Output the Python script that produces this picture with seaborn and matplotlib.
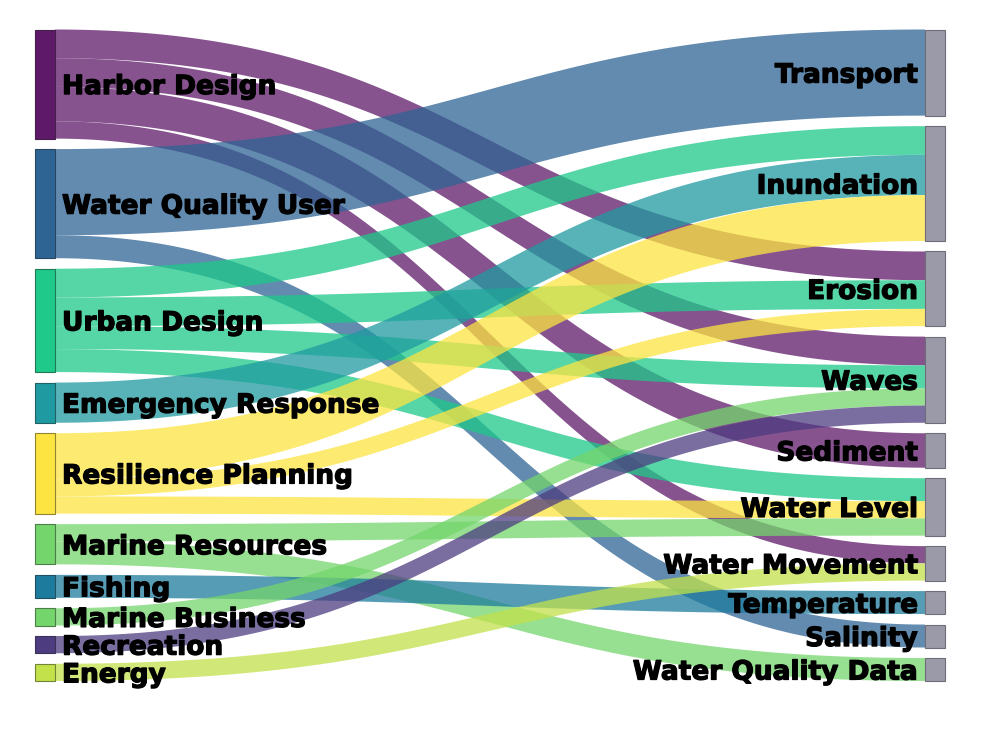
import numpy as np
import matplotlib
matplotlib.use("Agg")
import matplotlib.pyplot as plt
from matplotlib.patches import Polygon, Rectangle
import matplotlib.patheffects as pe
import seaborn as sns

# ---------------- data ----------------
left_nodes = ["Harbor Design", "Water Quality User", "Urban Design", "Emergency Response",
              "Resilience Planning", "Marine Resources", "Fishing", "Marine Business",
              "Recreation", "Energy"]
right_nodes = ["Transport", "Inundation", "Erosion", "Waves", "Sediment", "Water Level",
               "Water Movement", "Temperature", "Salinity", "Water Quality Data"]

link_source = ["Harbor Design", "Harbor Design", "Harbor Design", "Harbor Design",
               "Water Quality User", "Water Quality User",
               "Urban Design", "Urban Design", "Urban Design", "Urban Design",
               "Emergency Response",
               "Resilience Planning", "Resilience Planning", "Resilience Planning",
               "Marine Resources", "Marine Resources",
               "Fishing", "Marine Business", "Recreation", "Energy"]
link_target = ["Erosion", "Waves", "Sediment", "Water Movement",
               "Transport", "Salinity",
               "Inundation", "Erosion", "Waves", "Water Level",
               "Inundation",
               "Inundation", "Erosion", "Water Level",
               "Water Level", "Water Quality Data",
               "Temperature", "Waves", "Waves", "Water Movement"]
link_value = [5, 5, 6, 3,
              15, 4,
              5, 5, 4, 4,
              7,
              8, 3, 3,
              3, 4,
              4, 3, 3, 3]

left_colors = ["#5e1a69", "#2e6494", "#1ec98a", "#1f9aa0", "#fde441",
               "#74d56c", "#1d7b9d", "#74d56c", "#4d3c80", "#c2e14b"]
right_color = "#9b9aa8"

# ---------------- layout ----------------
sns.set_theme(style="white")
plt.rcParams["font.family"] = ["DejaVu Sans"]

W, H = 992, 744
fig = plt.figure(figsize=(W / 100, H / 100), dpi=100)
ax = fig.add_axes([0, 0, 1, 1])
ax.set_xlim(0, W)
ax.set_ylim(H, 0)
ax.axis("off")

top, bottom = 29.5, 681.0
gap = 10.5
lx0, lx1 = 35, 55
rx0, rx1 = 925, 945

left_tot = {n: 0 for n in left_nodes}
right_tot = {n: 0 for n in right_nodes}
for s, t, v in zip(link_source, link_target, link_value):
    left_tot[s] += v
    right_tot[t] += v
total = sum(link_value)
scale = (bottom - top - gap * (len(left_nodes) - 1)) / total


def positions(nodes, tot):
    pos, y = {}, top
    for n in nodes:
        h = tot[n] * scale
        pos[n] = (y, y + h)
        y += h + gap
    return pos


lpos = positions(left_nodes, left_tot)
rpos = positions(right_nodes, right_tot)

# link offsets
idx = list(range(len(link_value)))
src_off = {}
for n in left_nodes:
    y = lpos[n][0]
    for i in sorted([i for i in idx if link_source[i] == n],
                    key=lambda i: right_nodes.index(link_target[i])):
        src_off[i] = y
        y += link_value[i] * scale
tgt_off = {}
for n in right_nodes:
    y = rpos[n][0]
    for i in sorted([i for i in idx if link_target[i] == n],
                    key=lambda i: left_nodes.index(link_source[i])):
        tgt_off[i] = y
        y += link_value[i] * scale

t = np.linspace(0, 1, 120)
b0 = (1 - t) ** 3 + 3 * (1 - t) ** 2 * t
b1 = 3 * (1 - t) * t ** 2 + t ** 3
xm = (lx1 + rx0) / 2
xs = (1 - t) ** 3 * lx1 + 3 * (1 - t) ** 2 * t * xm + 3 * (1 - t) * t ** 2 * xm + t ** 3 * rx0

for i in idx:
    h = link_value[i] * scale
    y0, y1 = src_off[i], tgt_off[i]
    ytop = b0 * y0 + b1 * y1
    ybot = ytop + h
    pts = np.vstack([np.column_stack([xs, ytop]), np.column_stack([xs[::-1], ybot[::-1]])])
    col = left_colors[left_nodes.index(link_source[i])]
    ax.add_patch(Polygon(pts, closed=True, facecolor=col, alpha=0.75, edgecolor="none", zorder=1))

txt_fx = [pe.withStroke(linewidth=0.9, foreground="black")]

for n, c in zip(left_nodes, left_colors):
    y0, y1 = lpos[n]
    ax.add_patch(Rectangle((lx0, y0), lx1 - lx0, y1 - y0, facecolor=c,
                           edgecolor=sns.dark_palette(c, 3)[1], lw=0.8, zorder=3))
    ax.text(62, (y0 + y1) / 2 + 3, n, ha="left", va="center", fontsize=19,
            fontweight="bold", color="black", zorder=4, path_effects=txt_fx)

for n in right_nodes:
    y0, y1 = rpos[n]
    ax.add_patch(Rectangle((rx0, y0), rx1 - rx0, y1 - y0, facecolor=right_color,
                           edgecolor="#6e6d78", lw=0.8, zorder=3))
    ax.text(918, (y0 + y1) / 2 + 3, n, ha="right", va="center", fontsize=19,
            fontweight="bold", color="black", zorder=4, path_effects=txt_fx)

fig.savefig("out.png", dpi=100, facecolor="white")
